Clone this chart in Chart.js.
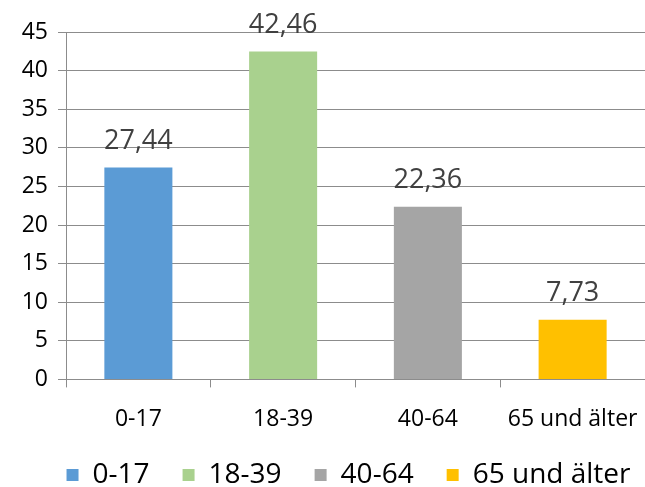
<!DOCTYPE html>
<html>
<head>
<meta charset="utf-8">
<script src="https://cdn.jsdelivr.net/npm/chart.js@4"></script>
<style>
  html, body { margin: 0; padding: 0; background: #fff; }
  #wrap { width: 645px; height: 487px; }
</style>
</head>
<body>
<div id="wrap"><canvas id="barChart"></canvas></div>
<script>
const categories = ['0-17', '18-39', '40-64', '65 und älter'];
const values = [27.44, 42.46, 22.36, 7.73];
const barColors = ['#5B9BD5', '#A9D18E', '#A5A5A5', '#FFC000'];
const yTicks = [0, 5, 10, 15, 20, 25, 30, 35, 40, 45];

const fontFamily = '"Open Sans", sans-serif';

// draws the value above each bar, with a decimal comma
const valueLabels = {
    id: 'valueLabels',
    afterDatasetsDraw(chart) {
        const ctx = chart.ctx;
        const meta = chart.getDatasetMeta(0);
        ctx.save();
        ctx.font = '27px ' + fontFamily;
        ctx.fillStyle = '#404040';
        ctx.textAlign = 'center';
        ctx.textBaseline = 'bottom';
        meta.data.forEach((bar, i) => {
            ctx.fillText(values[i].toFixed(2).replace('.', ','), bar.x, bar.y - 13);
        });
        ctx.restore();
    }
};

// the legend sits a bit right of the page centre, under the plot area
const legendShift = {
    id: 'legendShift',
    afterLayout(chart) {
        chart.legend.left += 26;
        chart.legend.right += 26;
    }
};

window.onload = function() {
    const ctx = document.getElementById('barChart').getContext('2d');
    new Chart(ctx, {
        type: 'bar',
        data: {
            labels: categories,
            datasets: [{
                data: values,
                backgroundColor: barColors,
                categoryPercentage: 1,
                barPercentage: 0.47
            }]
        },
        options: {
            responsive: true,
            maintainAspectRatio: false,
            animation: false,
            layout: { padding: { top: 32, right: 0, left: 0, bottom: -12 } },
            plugins: {
                tooltip: { enabled: false },
                legend: {
                    position: 'bottom',
                    labels: {
                        font: { size: 28, family: fontFamily },
                        color: '#595959',
                        boxWidth: 12,
                        boxHeight: 12,
                        padding: 33,
                        generateLabels() {
                            return categories.map((c, i) => ({
                                text: c,
                                fillStyle: barColors[i],
                                strokeStyle: barColors[i],
                                lineWidth: 0,
                                index: i
                            }));
                        }
                    }
                }
            },
            scales: {
                x: {
                    afterFit(axis) {
                        axis.height -= 23;
                        axis.paddingRight = 0; // plot runs to the right edge
                    },
                    grid: { drawOnChartArea: false, offset: true, tickLength: 8, color: '#8c8c8c' },
                    border: { color: '#8c8c8c' },
                    ticks: { font: { size: 23, family: fontFamily }, color: '#000', padding: 18 }
                },
                y: {
                    min: 0,
                    max: 45,
                    afterBuildTicks(axis) { axis.ticks = yTicks.map(v => ({ value: v })); },
                    afterFit(axis) { axis.width = 66; },
                    grid: { color: '#8c8c8c', tickLength: 8 },
                    border: { color: '#8c8c8c' },
                    ticks: { font: { size: 23, family: fontFamily }, color: '#000', padding: 10 }
                }
            }
        },
        plugins: [valueLabels, legendShift]
    });
};
</script>
</body>
</html>
